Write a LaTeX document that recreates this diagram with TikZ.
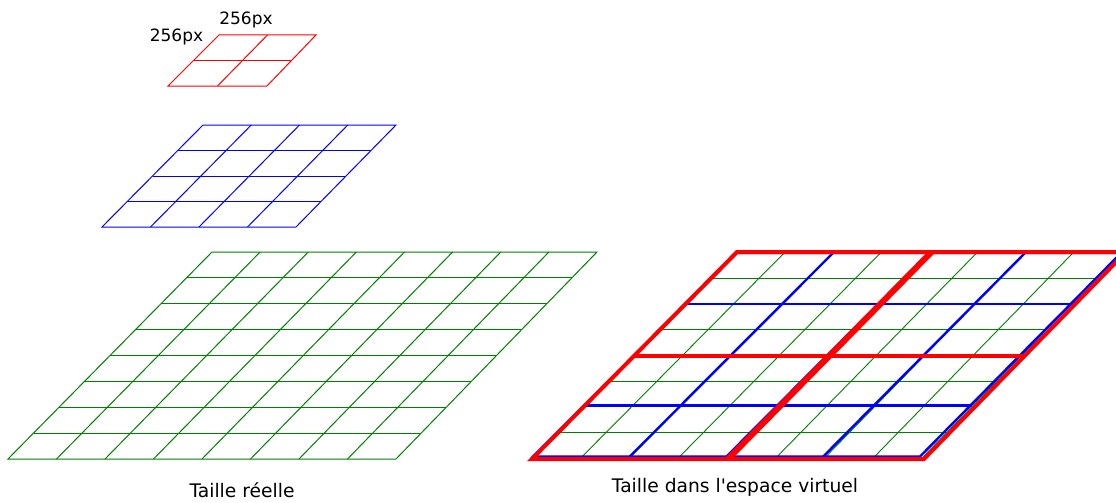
\documentclass[tikz,border=0pt]{standalone}
\usepackage{fontspec}
\setmainfont{DejaVu Sans}
\usetikzlibrary{calc}
\definecolor{gridgreen}{RGB}{0,128,0}
\definecolor{gridblue}{RGB}{0,0,255}
\definecolor{gridred}{RGB}{255,0,0}
% grid: style, n-1, n, BL, BR, TR, TL
\newcommand{\mygrid}[7]{%
  \draw[#1] (#4) -- (#5) -- (#6) -- (#7) -- cycle;
  \foreach \k in {1,...,#2}{%
    \draw[#1] ($(#4)!\k/#3!(#5)$) -- ($(#7)!\k/#3!(#6)$);
    \draw[#1] ($(#4)!\k/#3!(#7)$) -- ($(#5)!\k/#3!(#6)$);
  }%
}
\begin{document}
\begin{tikzpicture}[x=1pt,y=-1pt,
  thinred/.style={draw=gridred, line width=1pt, line join=miter},
  thinblue/.style={draw=gridblue, line width=1pt},
  thingreen/.style={draw=gridgreen, line width=1pt},
  vgreen/.style={draw=gridgreen, line width=0.9pt},
  vblue/.style={draw=gridblue, line width=2.4pt},
  vred/.style={draw=gridred, line width=4pt, line join=miter},
  vredmid/.style={draw=gridred, line width=6pt},
  lbl/.style={font=\fontsize{17}{20}\selectfont, anchor=base, inner sep=0pt},
  captionlbl/.style={font=\fontsize{18.7}{22}\selectfont, anchor=base, inner sep=0pt}]
\useasboundingbox (0,0) rectangle (1116,503);
\fill[white] (0,0) rectangle (1116,503);
\begin{scope}
\clip (0,0) rectangle (1116,503);
% small red grid
\coordinate (sBL) at (168,86);
\coordinate (sBR) at (267,86);
\coordinate (sTR) at (316,35);
\coordinate (sTL) at (219,35);
\mygrid{thinred}{1}{2}{sBL}{sBR}{sTR}{sTL}
% blue grid
\coordinate (bBL) at (102,227);
\coordinate (bBR) at (296,227);
\coordinate (bTR) at (396,125);
\coordinate (bTL) at (203,125);
\mygrid{thinblue}{3}{4}{bBL}{bBR}{bTR}{bTL}
% green grid
\coordinate (gBL) at (8,459);
\coordinate (gBR) at (396,459);
\coordinate (gTR) at (597,252);
\coordinate (gTL) at (212,252);
\mygrid{thingreen}{7}{8}{gBL}{gBR}{gTR}{gTL}
% virtual space: green
\coordinate (vgBL) at (532,458);
\coordinate (vgBR) at (922,458);
\coordinate (vgTR) at (1121,253);
\coordinate (vgTL) at (736,253);
\mygrid{vgreen}{7}{8}{vgBL}{vgBR}{vgTR}{vgTL}
% virtual space: blue
\coordinate (vbBL) at (533,456.5);
\coordinate (vbBR) at (920,456.5);
\coordinate (vbTR) at (1121,253);
\coordinate (vbTL) at (737,253);
\mygrid{vblue}{3}{4}{vbBL}{vbBR}{vbTR}{vbTL}
% virtual space: red
\coordinate (vrBL) at (532,459);
\coordinate (vrBR) at (924,459);
\coordinate (vrTR) at (1126,252);
\coordinate (vrTL) at (737,252);
\draw[vred] (vrBL) -- (vrBR) -- (vrTR) -- (vrTL) -- cycle;
\draw[vred] ($(vrBL)!0.5!(vrTL)$) -- ($(vrBR)!0.5!(vrTR)$);
\draw[vredmid] ($(vrBL)!0.5!(vrBR)$) -- ($(vrTL)!0.5!(vrTR)$);
\end{scope}
% labels
\node[lbl] (wlabel) at (246,25) {256px};
\node[lbl] (hlabel) at (176.5,42) {256px};
\node[captionlbl] (real) at (242,497) {Taille réelle};
\node[captionlbl] (virt) at (735,492) {Taille dans l\textquotesingle espace virtuel};
\end{tikzpicture}
\end{document}
